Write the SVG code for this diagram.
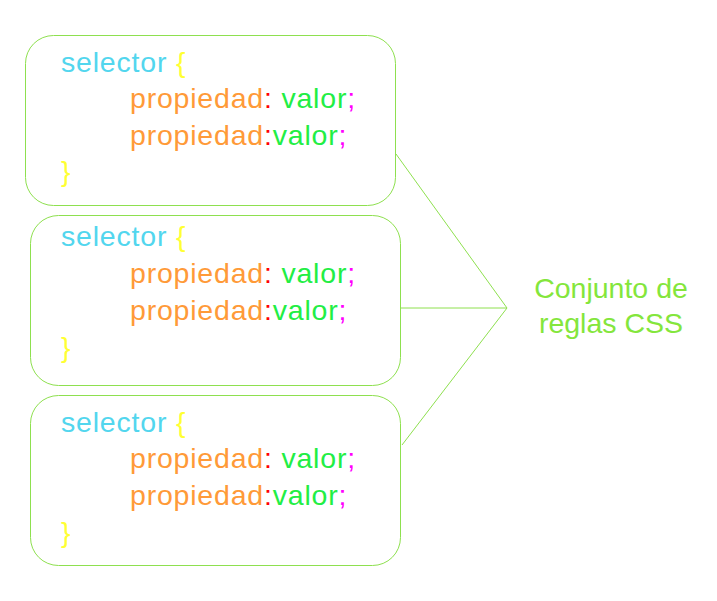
<svg xmlns="http://www.w3.org/2000/svg" width="717" height="601" viewBox="0 0 717 601">
<style>
.box{fill:#fff;stroke:#8ee04f;stroke-width:1}
.t{font-family:"Liberation Sans",Arial,sans-serif;font-size:28.5px;letter-spacing:0.8px}
.sel{fill:#52d6ee}.br{fill:#ffff33}.pr{fill:#ff9a38}.co{fill:#ff0000}.va{fill:#22ee44}.se{fill:#ff00ff}
.lbl{font-family:"Liberation Sans",Arial,sans-serif;font-size:28.5px;fill:#84e63c;text-anchor:middle}
.c{stroke:#8ee04f;stroke-width:1;fill:none}
</style>
<rect width="717" height="601" fill="#fff"/>
<g id="connectors">
<line class="c" x1="396" y1="154" x2="507" y2="308"/>
<line class="c" x1="401" y1="308" x2="507" y2="308"/>
<line class="c" x1="402" y1="445" x2="507" y2="308"/>
</g>
<g id="rule1">
<rect class="box" x="25.5" y="35.5" width="370" height="170" rx="28"/>
<text class="t" x="61" y="72"><tspan class="sel">selector </tspan><tspan class="br">{</tspan></text>
<text class="t" x="130" y="108"><tspan class="pr">propiedad</tspan><tspan class="co">:</tspan><tspan class="va"> valor</tspan><tspan class="se">;</tspan></text>
<text class="t" x="130" y="145"><tspan class="pr">propiedad</tspan><tspan class="co">:</tspan><tspan class="va">valor</tspan><tspan class="se">;</tspan></text>
<text class="t br" x="61" y="181">}</text>
</g>
<g id="rule2">
<rect class="box" x="30.5" y="215.5" width="370" height="170" rx="28"/>
<text class="t" x="61" y="246"><tspan class="sel">selector </tspan><tspan class="br">{</tspan></text>
<text class="t" x="130" y="283"><tspan class="pr">propiedad</tspan><tspan class="co">:</tspan><tspan class="va"> valor</tspan><tspan class="se">;</tspan></text>
<text class="t" x="130" y="320"><tspan class="pr">propiedad</tspan><tspan class="co">:</tspan><tspan class="va">valor</tspan><tspan class="se">;</tspan></text>
<text class="t br" x="61" y="357">}</text>
</g>
<g id="rule3">
<rect class="box" x="30.5" y="395.5" width="370" height="170" rx="28"/>
<text class="t" x="61" y="432"><tspan class="sel">selector </tspan><tspan class="br">{</tspan></text>
<text class="t" x="130" y="468"><tspan class="pr">propiedad</tspan><tspan class="co">:</tspan><tspan class="va"> valor</tspan><tspan class="se">;</tspan></text>
<text class="t" x="130" y="505"><tspan class="pr">propiedad</tspan><tspan class="co">:</tspan><tspan class="va">valor</tspan><tspan class="se">;</tspan></text>
<text class="t br" x="61" y="542">}</text>
</g>
<g id="label">
<text class="lbl" x="611" y="298">Conjunto de</text>
<text class="lbl" x="611" y="333">reglas CSS</text>
</g>
</svg>
